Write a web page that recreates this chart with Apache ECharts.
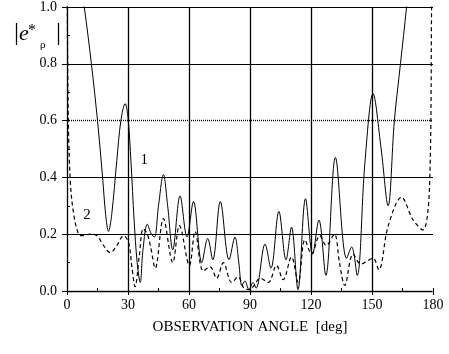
<!DOCTYPE html>
<html>
<head>
<meta charset="utf-8">
<script src="https://cdn.jsdelivr.net/npm/echarts@6/dist/echarts.min.js"></script>
<style>
html, body { margin: 0; padding: 0; background: #fff; }
#chart { width: 449px; height: 354px; }
</style>
</head>
<body>
<div id="chart"></div>
<script>
// curve 1 (solid) : [angle deg, |e*p|]
var curve1 = [[6,1.12],[8.5,1.0],[12,0.80],[15,0.60],[17.5,0.40],[19,0.27],[20.4,0.21],[22,0.27],[24.5,0.46],
    [26.5,0.60],[28.6,0.66],[30,0.61],[31.5,0.45],[33,0.25],[34.5,0.10],[36,0.03],[37.3,0.14],[39.5,0.235],
    [41.5,0.20],[43,0.19],[45,0.30],[47.4,0.41],[49.5,0.30],[52,0.145],[55.6,0.335],[59,0.19],[62.2,0.315],
    [66.3,0.10],[69.2,0.185],[71.7,0.11],[75.4,0.315],[79.7,0.11],[82.6,0.19],[84.5,0.10],[86,0.02],
    [87.5,0.035],[89.5,0.005],[91.5,0.03],[93,0.01],[97.4,0.165],[100.3,0.08],[104.2,0.28],[107.7,0.11],
    [110.4,0.225],[113.6,0.005],[117.3,0.325],[120.8,0.13],[123.9,0.25],[127.3,0.055],[132,0.47],
    [137.5,0.115],[140,0.155],[142.7,0.055],[146.5,0.45],[150.5,0.695],[154.5,0.50],[157.9,0.30],
    [161,0.60],[164,0.80],[167,1.0],[169,1.15]];
// curve 2 (dashed)
var curve2 = [[0,1.3],[0.5,0.67],[1.6,0.39],[3.3,0.27],[5.7,0.20],[7.4,0.195],[11.4,0.20],[14.7,0.195],
    [18,0.16],[21.3,0.135],[24.5,0.16],[27.8,0.195],[30.3,0.17],[32,0.08],[33.5,0.015],[35.5,0.12],
    [37.5,0.22],[39.5,0.20],[41,0.16],[43.4,0.08],[47.4,0.255],[52,0.10],[55.3,0.23],[60.2,0.09],
    [63,0.21],[67,0.07],[70.4,0.085],[73.6,0.045],[76.9,0.10],[81,0.03],[84.2,0.05],[87,0.01],[90,0.005],
    [92,0.02],[95,0.045],[99,0.03],[103,0.09],[106.3,0.04],[110.4,0.12],[113.7,0.03],[117,0.18],
    [120.3,0.13],[124.3,0.195],[127.5,0.16],[131.5,0.20],[134,0.10],[136.6,0.02],[140.7,0.13],
    [144.5,0.095],[150.5,0.115],[153.3,0.075],[158,0.23],[164.5,0.33],[170.2,0.25],[175,0.215],
    [178.3,0.37],[179.3,1.0],[179.6,1.3]];
var solidH = [0.2, 0.4, 0.8, 1.0];
var dottedH = [0.6];
var vLines = [30, 60, 90, 120, 150];
var curveLabels = [['1', 38, 0.461], ['2', 9.85, 0.268]];

var font = '"Liberation Serif", "DejaVu Serif", serif';
var chart = echarts.init(document.getElementById('chart'));

var lines = [];
solidH.forEach(function (v) {
    lines.push({ yAxis: v, lineStyle: { type: 'solid', color: '#000', width: 1 } });
});
dottedH.forEach(function (v) {
    lines.push({ yAxis: v, lineStyle: { type: [1, 1], color: '#000', width: 1.4 } });
});
vLines.forEach(function (v) {
    lines.push({ xAxis: v, lineStyle: { type: 'solid', color: '#000', width: 1.3 } });
});

var option = {
    animation: false,
    backgroundColor: '#fff',
    grid: { left: 67, top: 7, right: 16, bottom: 63 },
    xAxis: [{
        type: 'value', min: 0, max: 180, interval: 30,
        name: 'OBSERVATION ANGLE  [deg]', nameLocation: 'middle', nameGap: 29,
        nameMoveOverlap: false,
        nameTextStyle: { fontFamily: font, fontSize: 15, color: '#000' },
        axisLine: { lineStyle: { color: '#000', type: [1, 1], width: 1.4 } },
        axisTick: { length: 4, lineStyle: { color: '#000' } },
        axisLabel: { fontFamily: font, fontSize: 14, color: '#000', margin: 7 },
        splitLine: { show: false }
    }, {
        type: 'value', min: 0, max: 180, interval: 15, position: 'bottom',
        axisLine: { show: false },
        axisTick: { inside: true, length: 3, lineStyle: { color: '#000' } },
        axisLabel: { show: false }, splitLine: { show: false }
    }],
    yAxis: [{
        type: 'value', min: 0, max: 1, interval: 0.2,
        axisLine: { show: true, lineStyle: { color: '#000', width: 1.3 } },
        axisTick: { show: true, length: 5, lineStyle: { color: '#000' } },
        axisLabel: { fontFamily: font, fontSize: 14, color: '#000', margin: 10,
            formatter: function (v) { return v.toFixed(1); } },
        splitLine: { show: false }
    }, {
        type: 'value', min: 0, max: 1, interval: 0.1, position: 'left',
        axisLine: { show: false },
        axisTick: { show: true, inside: true, length: 3, lineStyle: { color: '#000' } },
        axisLabel: { show: false }, splitLine: { show: false }
    }],
    series: [{
        type: 'line', data: curve1, smooth: 0.35, symbol: 'none', clip: true,
        lineStyle: { color: '#000', width: 1 },
        markLine: { silent: true, symbol: 'none', label: { show: false }, data: lines }
    }, {
        type: 'line', data: curve2, smooth: 0.35, symbol: 'none', clip: true,
        lineStyle: { color: '#000', width: 1.2, type: [4, 3] }
    }]
};
chart.setOption(option);

// curve numbers and the y axis label
var g = [];
curveLabels.forEach(function (c) {
    var p = chart.convertToPixel({ gridIndex: 0 }, [c[1], c[2]]);
    g.push({ type: 'text', x: p[0], y: p[1],
        style: { text: c[0], font: '15px ' + font, fill: '#000', align: 'center', verticalAlign: 'middle' } });
});
g.push({ type: 'text', x: 14, y: 21, style: { text: '|', font: '25px ' + font, fill: '#000' } });
g.push({ type: 'text', x: 19, y: 23, style: { text: 'e', font: 'italic 22px ' + font, fill: '#000' } });
g.push({ type: 'text', x: 28, y: 23, style: { text: '*', font: '16px ' + font, fill: '#000' } });
g.push({ type: 'text', x: 40, y: 40, style: { text: 'ρ', font: '11px ' + font, fill: '#000' } });
g.push({ type: 'text', x: 56, y: 21, style: { text: '|', font: '25px ' + font, fill: '#000' } });
chart.setOption({ graphic: g });
</script>
</body>
</html>
